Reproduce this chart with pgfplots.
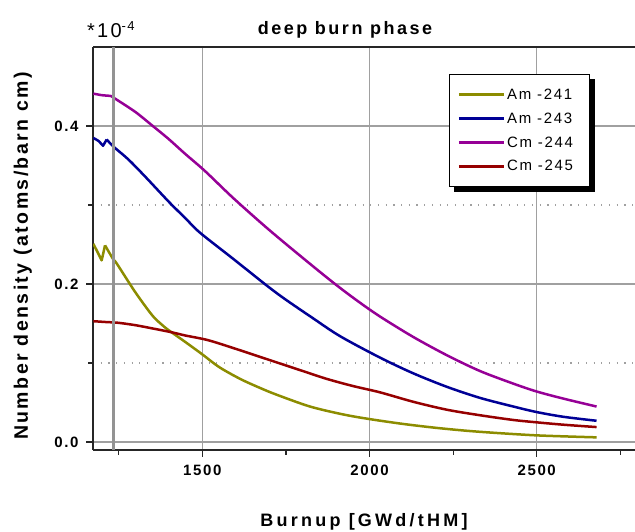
\documentclass[border=0pt]{standalone}
\usepackage{fontspec}
\usepackage{pgfplots}
\pgfplotsset{compat=1.18}
\newfontfamily\lsans[LetterSpace=11]{Liberation Sans}
\newfontfamily\tsans[LetterSpace=14]{Liberation Sans}
\newfontfamily\xsans[LetterSpace=18]{Liberation Sans}
\newfontfamily\ysans[LetterSpace=12.5]{Liberation Sans}
\definecolor{c241}{RGB}{140,140,0}
\definecolor{c243}{RGB}{0,0,150}
\definecolor{c244}{RGB}{150,0,150}
\definecolor{c245}{RGB}{150,0,0}
\definecolor{gridg}{RGB}{160,160,160}
\begin{document}
\begin{tikzpicture}[x=1pt,y=1pt]
\useasboundingbox (0,0) rectangle (635,532);
\begin{axis}[
  at={(93pt,82pt)}, anchor=south west,
  scale only axis, width=542pt, height=403pt,
  xmin=1173, xmax=2794, ymin=-0.01, ymax=0.5,
  axis x line*=box, axis y line*=left,
  y axis line style={-}, x axis line style={-},
  axis line style={line width=1.4pt, black!85},
  xtick={1500,2000,2500}, xticklabels={1500,2000,2500},
  minor xtick={1250,1750,2250,2750},
  ytick={0,0.2,0.4}, yticklabels={0.0,0.2,0.4},
  minor ytick={0.1,0.3},
  xtick pos=bottom, ytick pos=left,
  tick align=outside,
  major tick length=7pt, minor tick length=5pt,
  tick style={line width=1.2pt, black!85},
  xmajorgrids=true, ymajorgrids=true, yminorgrids=true, xminorgrids=false,
  major grid style={gridg, line width=1.3pt},
  minor grid style={gridg, line width=1.2pt, dash pattern=on 1.2pt off 6.5pt},
  ticklabel style={font=\lsans\bfseries\fontsize{15}{17}\selectfont},
  xticklabel style={yshift=-4pt},
  yticklabel style={xshift=-4pt},
  legend style={name=leg, at={(0.657,0.933)}, anchor=north west, draw=black, line width=1.2pt,
    fill=white, font=\lsans\fontsize{15}{17}\selectfont, inner xsep=8pt, inner ysep=12pt,
    row sep=8pt, cells={anchor=west}},
  legend image code/.code={\draw[#1, line width=2.5pt] (0pt,0pt) -- (45pt,0pt);},
  every axis plot/.append style={line width=2.5pt, line join=round},
]
% Am-241
\addplot[c241, forget plot] coordinates {(1174,0.251) (1199,0.230) (1209,0.249)};
\addplot[c241, smooth] coordinates {
(1209,0.249) (1234,0.231) (1244,0.226) (1299,0.190) (1349,0.161) (1375,0.150)
(1398,0.142) (1448,0.127) (1500,0.111) (1550,0.095) (1613,0.080) (1670,0.069)
(1722,0.060) (1822,0.045) (1921,0.035) (2002,0.029) (2100,0.023) (2200,0.018)
(2300,0.014) (2400,0.011) (2500,0.0085) (2600,0.007) (2679,0.006)};
\addlegendentry{\makebox[72pt][l]{Am -241}}
% Am-243
\addplot[c243, forget plot] coordinates {(1174,0.385) (1190,0.381) (1203,0.375) (1214,0.383)};
\addplot[c243, smooth] coordinates {
(1214,0.383) (1234,0.374) (1278,0.358) (1329,0.336) (1400,0.304) (1450,0.283)
(1493,0.265) (1592,0.232) (1693,0.198) (1747,0.181) (1830,0.157) (1912,0.134)
(2031,0.107) (2131,0.087) (2231,0.070) (2330,0.056) (2430,0.045) (2500,0.038)
(2580,0.032) (2679,0.027)};
\addlegendentry{\makebox[72pt][l]{Am -243}}
% Cm-244
\addplot[c244, smooth] coordinates {
(1174,0.441) (1200,0.439) (1225,0.438) (1234,0.436) (1299,0.418) (1349,0.401)
(1398,0.384) (1448,0.365) (1508,0.343) (1592,0.309) (1693,0.271) (1792,0.236)
(1891,0.202) (1963,0.179) (2031,0.159) (2131,0.133) (2231,0.110) (2330,0.090)
(2430,0.074) (2500,0.064) (2580,0.055) (2679,0.045)};
\addlegendentry{\makebox[72pt][l]{Cm -244}}
% Cm-245
\addplot[c245, smooth] coordinates {
(1174,0.153) (1209,0.152) (1248,0.151) (1299,0.148) (1349,0.144) (1408,0.139)
(1448,0.135) (1517,0.129) (1600,0.118) (1700,0.104) (1800,0.090) (1872,0.080)
(1950,0.071) (2031,0.063) (2131,0.051) (2231,0.041) (2330,0.034) (2430,0.028)
(2500,0.025) (2580,0.022) (2679,0.019)};
\addlegendentry{\makebox[72pt][l]{Cm -245}}
\addplot[gray!85, line width=3.2pt, forget plot] coordinates {(1234,-0.01) (1234,0.5)};
\end{axis}
% legend shadow (bottom and right strips)
\fill[black] ([xshift=5pt]leg.south west) rectangle ([xshift=5pt,yshift=-5pt]leg.south east);
\fill[black] ([yshift=-5pt]leg.north east) rectangle ([xshift=5pt,yshift=-5pt]leg.south east);
\node[anchor=base, font=\tsans\bfseries\fontsize{18}{20}\selectfont] at (345,497) {deep burn phase};
\node[anchor=base, font=\xsans\bfseries\fontsize{18}{20}\selectfont] at (364,5) {Burnup [GWd/tHM]};
\node[anchor=base, rotate=90, font=\ysans\bfseries\fontsize{19.5}{21}\selectfont] at (28,276) {Number density (atoms/barn cm)};
\node[anchor=base west, inner sep=0pt, font=\lsans\fontsize{20}{22}\selectfont] at (87,494) {*10\raisebox{7pt}{\fontsize{13}{14}\selectfont -4}};
\end{tikzpicture}
\end{document}
